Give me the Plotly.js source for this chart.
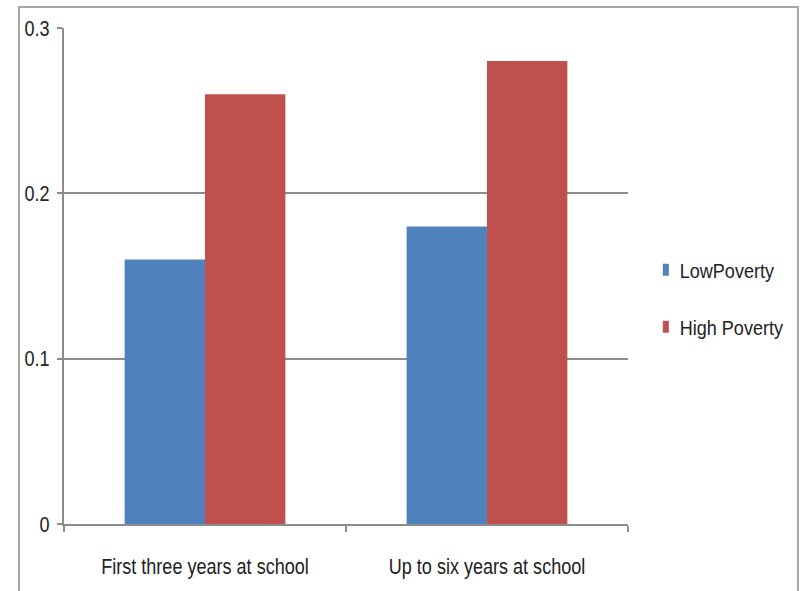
<!DOCTYPE html>
<html><head><meta charset="utf-8">
<script src="https://cdn.plot.ly/plotly-3.0.1.min.js"></script>
<style>
body{margin:0;padding:0;background:#fff;}
#wrap{position:relative;width:802px;height:591px;overflow:hidden;}
#chart{width:802px;height:591px;}
#frame{position:absolute;left:18px;top:6px;width:777px;height:600px;border:2px solid #a6a6a6;pointer-events:none;}
</style></head>
<body><div id="wrap"><div id="chart"></div><div id="frame"></div></div>
<script>
const categories = ["First three years at school", "Up to six years at school"];
const lowPoverty = [0.16, 0.18];
const highPoverty = [0.26, 0.28];
const seriesNames = ["LowPoverty", "High Poverty"];
const yTicks = [0, 0.1, 0.2, 0.3];
const yTickText = ["0", "0.1", "0.2", "0.3"];

const font = "'Liberation Sans', Arial, sans-serif";
const traces = [
  {type:'bar', x:categories, y:lowPoverty, name:seriesNames[0], legendgroup:'a', marker:{color:'#4F81BD'}},
  {type:'bar', x:categories, y:highPoverty, name:seriesNames[1], legendgroup:'b', marker:{color:'#C0504D'}}
];
const layout = {
  width:802, height:591,
  margin:{l:64, r:174, t:28, b:67, autoexpand:false},
  paper_bgcolor:'#fff', plot_bgcolor:'#fff',
  font:{family:font, size:22, color:'#222'},
  barmode:'group', bargap:0.43, bargroupgap:0,
  showlegend:true,
  legend:{x:1.021, y:0.455, xanchor:'left', yanchor:'middle', traceorder:'grouped', tracegroupgap:28,
          font:{family:font, size:20, color:'#222'}, itemwidth:30},
  xaxis:{type:'category', showgrid:false, showline:true, linecolor:'#8c8c8c', linewidth:2,
         ticks:'outside', tickson:'boundaries', ticklen:6, tickcolor:'#8c8c8c', tickwidth:2,
         ticklabelstandoff:22, tickfont:{family:font, size:22, color:'#222'}},
  yaxis:{range:[0,0.3], tickvals:yTicks, ticktext:yTickText, showgrid:true, gridcolor:'#8c8c8c', gridwidth:2,
         showline:true, linecolor:'#8c8c8c', linewidth:2, ticks:'outside', ticklen:5, tickcolor:'#8c8c8c', tickwidth:2,
         zeroline:false, ticklabelstandoff:3, tickfont:{family:font, size:22, color:'#222'}}
};
function squeeze(sel, f){
  document.querySelectorAll(sel).forEach(t=>{
    if(!t.dataset.len){ t.dataset.len = t.getComputedTextLength(); }
    t.setAttribute('textLength', (parseFloat(t.dataset.len)*f).toFixed(2));
    t.setAttribute('lengthAdjust', 'spacingAndGlyphs');
  });
}
function condense(){
  squeeze('#chart g.xtick text, #chart g.ytick text', 0.82);
  squeeze('#chart text.legendtext', 0.9);
  document.querySelectorAll('#chart .legendpoints path').forEach(p=>{
    p.setAttribute('transform', 'translate(26,0) scale(0.5,1)');
  });
}
Plotly.newPlot('chart', traces, layout, {displayModeBar:false, staticPlot:true}).then(condense);
</script></body></html>
